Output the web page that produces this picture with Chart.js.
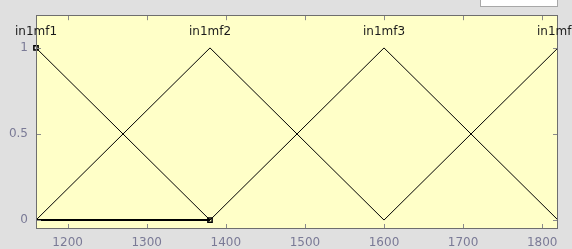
<!DOCTYPE html>
<html>
<head>
<meta charset="utf-8">
<script src="https://cdn.jsdelivr.net/npm/chart.js@4"></script>
<style>
  html, body { margin: 0; padding: 0; background: #e0e0e0; }
  #box { position: relative; width: 572px; height: 249px; }
</style>
</head>
<body>
<div id="box"><canvas id="grafico" width="572" height="249"></canvas></div>
<script>
// dados
const xTicks = [1200, 1300, 1400, 1500, 1600, 1700, 1800];
const yTicks = [0, 0.5, 1];
const mfNames = ['in1mf1', 'in1mf2', 'in1mf3', 'in1mf4'];
const mfA = [940, 1160, 1380, 1600];
const mfB = [1160, 1380, 1600, 1820];
const mfC = [1380, 1600, 1820, 2040];
const baseSeg = [1160, 1380];          // trecho grosso em 0
const markerX = [1160, 1380];
const markerY = [1, 0];

const corTick = '#7a7a96';
const fonte = { family: 'DejaVu Sans', size: 12 };

let datasets = [];
for (let i = 0; i < mfNames.length; i++) {
  datasets.push({
    label: mfNames[i],
    data: [{x: mfA[i], y: 0}, {x: mfB[i], y: 1}, {x: mfC[i], y: 0}],
    showLine: true,
    borderColor: '#000',
    borderWidth: 1,
    pointRadius: 0
  });
}
datasets.push({
  label: 'base',
  data: baseSeg.map(v => ({x: v, y: 0})),
  showLine: true,
  borderColor: '#000',
  borderWidth: 2,
  pointRadius: 0
});
datasets.push({
  label: 'marcadores',
  data: markerX.map((v, i) => ({x: v, y: markerY[i]})),
  showLine: false,
  pointStyle: 'rect',
  pointRadius: 3,
  pointBackgroundColor: 'rgba(0,0,0,0)',
  pointBorderColor: '#000',
  pointBorderWidth: 1.5,
  clip: false
});

// fundo, moldura, ticks internos e nomes das funções
const desenhoMatlab = {
  id: 'desenhoMatlab',
  beforeDraw(chart) {
    const c = chart.ctx, a = chart.chartArea;
    c.save();
    c.fillStyle = '#e0e0e0';
    c.fillRect(0, 0, chart.width, chart.height);
    c.fillStyle = '#ffffc8';
    c.fillRect(a.left, a.top, a.right - a.left, a.bottom - a.top);
    // caixinha branca no canto
    c.fillStyle = '#fff';
    c.fillRect(481, -1, 76, 7);
    c.strokeStyle = '#a8a8a8';
    c.lineWidth = 1;
    c.strokeRect(480.5, -1, 77, 7.5);
    c.restore();
  },
  afterDatasetsDraw(chart) {
    const c = chart.ctx, a = chart.chartArea;
    const sx = chart.scales.x, sy = chart.scales.y;
    c.save();
    c.strokeStyle = '#8a8a8a';
    c.lineWidth = 1;
    c.beginPath();
    xTicks.forEach(v => {
      const px = Math.round(sx.getPixelForValue(v)) + 0.5;
      c.moveTo(px, a.bottom); c.lineTo(px, a.bottom - 5);
      c.moveTo(px, a.top); c.lineTo(px, a.top + 5);
    });
    yTicks.forEach(v => {
      const py = Math.round(sy.getPixelForValue(v)) + 0.5;
      c.moveTo(a.left, py); c.lineTo(a.left + 5, py);
      c.moveTo(a.right, py); c.lineTo(a.right - 5, py);
    });
    c.stroke();
    c.strokeStyle = '#6e6e6e';
    c.strokeRect(Math.round(a.left) + 0.5, Math.round(a.top) + 0.5,
                 Math.round(a.right - a.left) - 1, Math.round(a.bottom - a.top) - 1);
    c.fillStyle = '#1a1a1a';
    c.font = '12px "DejaVu Sans"';
    c.textAlign = 'center';
    c.textBaseline = 'middle';
    mfNames.forEach((n, i) => {
      c.fillText(n, sx.getPixelForValue(mfB[i]), sy.getPixelForValue(1.095));
    });
    c.restore();
  }
};

const ctx = document.getElementById('grafico').getContext('2d');
new Chart(ctx, {
  type: 'scatter',
  data: { datasets: datasets },
  options: {
    responsive: false,
    animation: false,
    layout: { padding: { left: 0, right: 14, top: 12, bottom: 0 } },
    plugins: { legend: { display: false }, tooltip: { enabled: false } },
    scales: {
      x: {
        type: 'linear', min: 1160, max: 1820,
        afterBuildTicks: s => { s.ticks = xTicks.map(v => ({value: v})); },
        afterFit: s => { s.height = 20; },
        grid: { display: false, drawTicks: false },
        border: { display: false },
        ticks: { color: corTick, font: fonte, padding: 7, maxRotation: 0,
                 callback: v => String(v) }
      },
      y: {
        type: 'linear', min: -0.052, max: 1.19,
        afterBuildTicks: s => { s.ticks = yTicks.map(v => ({value: v})); },
        afterFit: s => { s.width = 36; },
        grid: { display: false, drawTicks: false },
        border: { display: false },
        ticks: { color: corTick, font: fonte, padding: 8,
                 callback: v => String(v) }
      }
    }
  },
  plugins: [desenhoMatlab]
});
</script>
</body>
</html>
